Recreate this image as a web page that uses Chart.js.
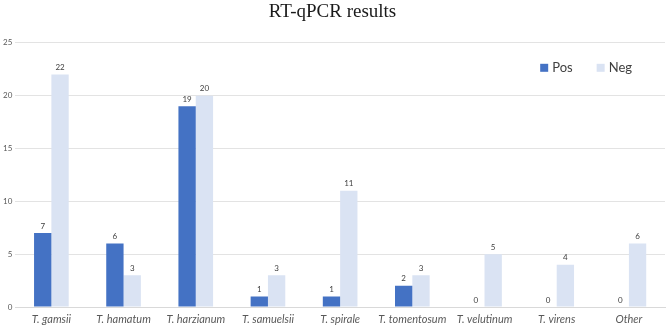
<!DOCTYPE html>
<html>
<head>
<meta charset="utf-8">
<script src="https://cdn.jsdelivr.net/npm/chart.js@4"></script>
<style>
  html, body { margin: 0; padding: 0; background: #fff; }
  #wrap { width: 666px; height: 325px; }
</style>
</head>
<body>
<div id="wrap"><canvas id="rtChart"></canvas></div>
<script>
const species = ['T. gamsii', 'T. hamatum', 'T. harzianum', 'T. samuelsii', 'T. spirale',
    'T. tomentosum', 'T. velutinum', 'T. virens', 'Other'];
const posValues = [7, 6, 19, 1, 1, 2, 0, 0, 0];
const negValues = [22, 3, 20, 3, 11, 3, 5, 4, 6];
const yTicks = [0, 5, 10, 15, 20, 25];

// numbers on top of each bar
const valueLabels = {
    id: 'valueLabels',
    afterDatasetsDraw(chart) {
        const ctx = chart.ctx;
        ctx.save();
        ctx.font = '8px Lato';
        ctx.fillStyle = '#404040';
        ctx.textAlign = 'center';
        ctx.textBaseline = 'bottom';
        chart.data.datasets.forEach((ds, i) => {
            chart.getDatasetMeta(i).data.forEach((bar, j) => {
                ctx.fillText(ds.data[j], bar.x, bar.y - 3);
            });
        });
        ctx.restore();
    }
};

// legend sits inside the plot, top right (Excel style)
const innerLegend = {
    id: 'innerLegend',
    afterDraw(chart) {
        const ctx = chart.ctx;
        const area = chart.chartArea;
        ctx.save();
        ctx.font = '13px Lato';
        ctx.textBaseline = 'middle';
        const items = chart.data.datasets.map(ds => ({
            text: ds.label,
            color: ds.backgroundColor,
            w: 8 + 4 + ctx.measureText(ds.label).width
        }));
        const gap = 24;
        let total = items.reduce((s, it) => s + it.w, 0) + gap * (items.length - 1);
        let x = area.right - 33 - total;
        const y = area.top + 25;
        items.forEach(it => {
            ctx.fillStyle = it.color;
            ctx.fillRect(x, y - 4, 8, 8);
            ctx.fillStyle = '#404040';
            ctx.fillText(it.text, x + 12, y);
            x += it.w + gap;
        });
        ctx.restore();
    }
};

document.addEventListener('DOMContentLoaded', function() {
    const ctx = document.getElementById('rtChart').getContext('2d');

    const data = {
        labels: species,
        datasets: [{
            label: 'Pos',
            data: posValues,
            backgroundColor: '#4472C4'
        }, {
            label: 'Neg',
            data: negValues,
            backgroundColor: '#DAE3F3'
        }]
    };

    const options = {
        responsive: true,
        maintainAspectRatio: false,
        animation: false,
        layout: { padding: { left: 0, right: 1, top: 0, bottom: 0 } },
        datasets: {
            bar: { barPercentage: 1, categoryPercentage: 0.48 }
        },
        scales: {
            x: {
                afterFit: scale => { scale.height = 18; },
                grid: { display: false, drawTicks: false },
                border: { display: true, color: '#d9d9d9' },
                ticks: {
                    color: '#595959',
                    padding: 6,
                    maxRotation: 0,
                    autoSkip: false,
                    font: { family: 'Lato', size: 11, style: 'italic' }
                }
            },
            y: {
                min: 0,
                max: 25,
                afterBuildTicks: axis => { axis.ticks = yTicks.map(v => ({ value: v })); },
                grid: { color: '#e3e3e3', drawTicks: false },
                border: { display: false },
                ticks: {
                    color: '#595959',
                    padding: 3,
                    font: { family: 'Lato', size: 8 }
                }
            }
        },
        plugins: {
            title: {
                display: true,
                text: 'RT-qPCR results',
                color: '#1a1a1a',
                padding: { top: 1, bottom: 19 },
                font: { family: 'Liberation Serif', size: 19, weight: 'normal' }
            },
            legend: { display: false },
            tooltip: { enabled: false }
        }
    };

    new Chart(ctx, {
        type: 'bar',
        data: data,
        options: options,
        plugins: [valueLabels, innerLegend]
    });
});
</script>
</body>
</html>
